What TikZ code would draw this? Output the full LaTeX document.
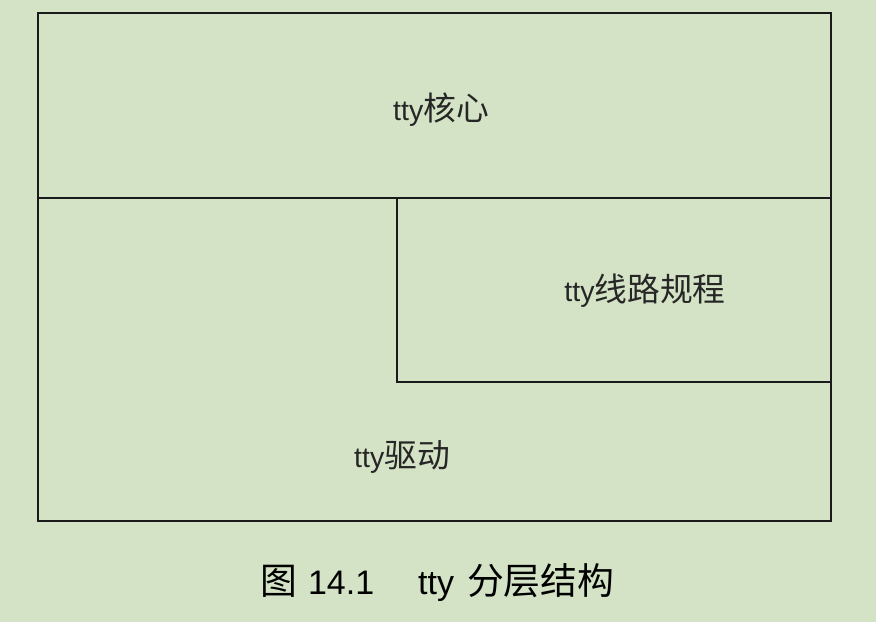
\documentclass[tikz,border=0pt]{standalone}
\usepackage{fontspec}
\setmainfont{Liberation Sans}
\newfontfamily\cjk[Scale=1.15]{Noto Sans CJK SC}
\definecolor{bgc}{HTML}{D4E3C5}
\definecolor{linec}{HTML}{1A1A1A}
\newcommand{\capcjk}[1]{{\cjk\fontsize{32}{36}\selectfont #1}}
\begin{document}
\begin{tikzpicture}[x=1pt,y=1pt,
  frame/.style={draw=linec,line width=2pt},
  lbl/.style={font=\fontsize{28.5}{32}\selectfont,inner sep=0pt,text=black!85},
  captext/.style={font=\fontsize{34}{38}\selectfont,inner sep=0pt,text=black}]
\fill[bgc] (0,0) rectangle (876,622);
\useasboundingbox (0,0) rectangle (876,622);
\coordinate (tl) at (38,609);
\coordinate (br) at (831,101);
\coordinate (ml) at (38,424);
\coordinate (mr) at (831,424);
\coordinate (ltl) at (397,424);
\coordinate (lbr) at (831,240);
\draw[frame] (tl) rectangle (br);
\draw[frame] (ml) -- (mr);
\draw[frame] (ltl) |- (lbr);
\node[lbl] (core) at (441,512) {tty{\cjk 核心}};
\node[lbl] (ldisc) at (645,331) {tty{\cjk 线路规程}};
\node[lbl] (drv) at (402,165) {tty{\cjk 驱动}};
\node[captext,anchor=west] (caption) at (260,39) {\capcjk{图}\hspace{11pt}14.1\hspace{44pt}tty\hspace{13pt}\capcjk{分层结构}};
\end{tikzpicture}
\end{document}
